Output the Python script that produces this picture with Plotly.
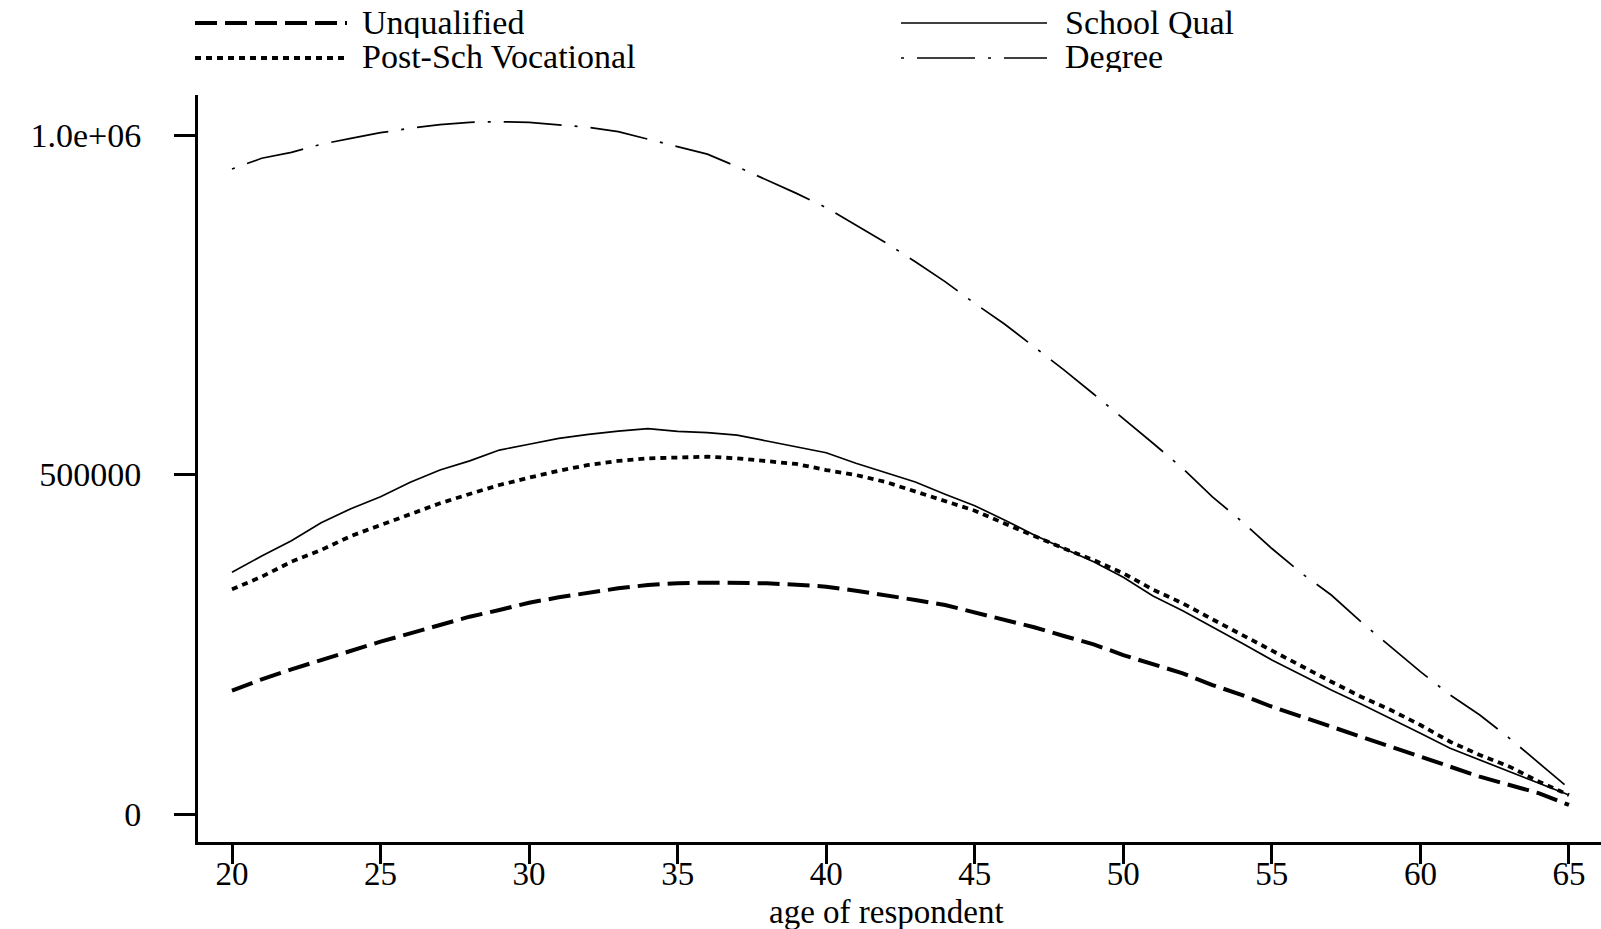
import plotly.graph_objects as go

ages = list(range(20, 66))

unqualified = [0.1816, 0.1984, 0.2131, 0.2268, 0.2405, 0.2538, 0.2661, 0.2783, 0.2906, 0.3004,
               0.3112, 0.3191, 0.3259, 0.3324, 0.3373, 0.3398, 0.3407, 0.3407, 0.3398, 0.3377,
               0.3348, 0.3289, 0.3225, 0.3152, 0.3078, 0.2970, 0.2857, 0.2750, 0.2621, 0.2499,
               0.2340, 0.2205, 0.2072, 0.1899, 0.1752, 0.1580, 0.1433, 0.1286, 0.1139, 0.0991,
               0.0844, 0.0697, 0.0550, 0.0427, 0.0305, 0.0133]
school_qual = [0.356, 0.380, 0.4025, 0.429, 0.4496, 0.4673, 0.4885, 0.5066, 0.520, 0.536,
               0.5445, 0.5533, 0.5592, 0.564, 0.5675, 0.5636, 0.5616, 0.558, 0.5493, 0.541,
               0.532, 0.5165, 0.503, 0.489, 0.471, 0.454, 0.433, 0.411, 0.391, 0.3716,
               0.3486, 0.321, 0.2994, 0.2758, 0.2514, 0.2268, 0.2047, 0.1826, 0.162, 0.141,
               0.1188, 0.0968, 0.0795, 0.0623, 0.0452, 0.028]
post_sch_voc = [0.331, 0.3495, 0.3716, 0.3888, 0.4094, 0.4256, 0.4404, 0.4576, 0.4713, 0.4845,
                0.4953, 0.5056, 0.514, 0.520, 0.5238, 0.5253, 0.5262, 0.5238, 0.520, 0.5155,
                0.5066, 0.4993, 0.489, 0.4747, 0.4614, 0.4467, 0.428, 0.4094, 0.391, 0.374,
                0.3545, 0.3305, 0.3103, 0.2867, 0.2636, 0.2415, 0.217, 0.1948, 0.1728, 0.1532,
                0.131, 0.1065, 0.0869, 0.0697, 0.0476, 0.028]
degree = [0.950, 0.9657, 0.9745, 0.9863, 0.9951, 1.0034, 1.0099, 1.0152, 1.0187, 1.0196,
          1.0187, 1.0152, 1.0113, 1.0049, 0.9941, 0.9828, 0.9718, 0.9533, 0.9337, 0.914,
          0.893, 0.8675, 0.8414, 0.8134, 0.784, 0.752, 0.7216, 0.688, 0.654, 0.6186,
          0.5828, 0.546, 0.509, 0.467, 0.4305, 0.391, 0.3545, 0.3225, 0.283, 0.2464,
          0.2096, 0.1753, 0.1458, 0.1115, 0.0747, 0.0378]

series_names = ["Unqualified", "School Qual", "Post-Sch Vocational", "Degree"]
x_ticks = [20, 25, 30, 35, 40, 45, 50, 55, 60, 65]
y_ticks = [0, 500000, 1000000]
y_ticktext = ["0", "500000", "1.0e+06"]
x_title = "age of respondent"

FONT = "Liberation Serif, Times New Roman, serif"
styles = {
    "Unqualified": dict(width=4, dash="22px,8px"),
    "School Qual": dict(width=1.7, dash="solid"),
    "Post-Sch Vocational": dict(width=3.8, dash="6px,5px"),
    "Degree": dict(width=1.7, dash="3px,13px,58px,13px"),
}
values = {
    "Unqualified": unqualified,
    "School Qual": school_qual,
    "Post-Sch Vocational": post_sch_voc,
    "Degree": degree,
}

fig = go.Figure()
for name in series_names:
    fig.add_trace(go.Scatter(
        x=ages, y=[v * 1e6 for v in values[name]], mode="lines", name=name,
        line=dict(color="black", width=styles[name]["width"], dash=styles[name]["dash"]),
        showlegend=False,
    ))

W, H = 1601, 929
ml, mr, mt, mb = 198, 0, 95, 87
pw, ph = W - ml - mr, H - mt - mb

def px2paper(px, py):
    return (px - ml) / pw, (H - mb - py) / ph

# manual legend (two columns, two rows): line x0, line x1, line y, text x, text y
legend_pos = {
    "Unqualified": (195, 347, 23, 360, 23),
    "Post-Sch Vocational": (195, 347, 58, 360, 56),
    "School Qual": (901, 1047, 23, 1063, 23),
    "Degree": (901, 1047, 58, 1063, 56),
}
shapes = []
annotations = []
for name in series_names:
    x0, x1, yy, xt, yt = legend_pos[name]
    px0, py0 = px2paper(x0, yy)
    px1, _ = px2paper(x1, yy)
    shapes.append(dict(type="line", xref="paper", yref="paper", x0=px0, x1=px1, y0=py0, y1=py0,
                       line=dict(color="black", width=styles[name]["width"], dash=styles[name]["dash"])))
    tx, ty = px2paper(xt, yt)
    annotations.append(dict(text=name, xref="paper", yref="paper", x=tx, y=ty, xanchor="left",
                            yanchor="middle", showarrow=False, height=31, valign="middle",
                            font=dict(family=FONT, size=34, color="black")))

tx, ty = px2paper(886, 912)
annotations.append(dict(text=x_title, xref="paper", yref="paper", x=tx, y=ty, xanchor="center",
                        yanchor="middle", showarrow=False, font=dict(family=FONT, size=33, color="black")))

px_per_year = 29.71
x_lo = 20 - (232 - ml) / px_per_year
x_hi = 20 + (W - mr - 232) / px_per_year
y_scale = 1e6 / 679.0
y_lo = -(H - mb - 814) * y_scale
y_hi = (814 - mt) * y_scale

fig.update_layout(
    width=W, height=H,
    margin=dict(l=ml, r=mr, t=mt, b=mb, pad=0),
    paper_bgcolor="white", plot_bgcolor="white",
    font=dict(family=FONT, size=34, color="black"),
    shapes=shapes, annotations=annotations,
    xaxis=dict(range=[x_lo, x_hi], tickvals=x_ticks, ticks="outside", ticklen=19, tickwidth=3,
               tickcolor="black", showline=True, linewidth=3, linecolor="black", mirror=False,
               showgrid=False, zeroline=False, tickfont=dict(family=FONT, size=33),
               ticklabelstandoff=-19),
    yaxis=dict(range=[y_lo, y_hi], tickvals=y_ticks, ticktext=y_ticktext, ticks="outside",
               ticklen=21, tickwidth=3, tickcolor="black", showline=True, linewidth=3,
               linecolor="black", mirror=False, showgrid=False, zeroline=False,
               tickfont=dict(family=FONT, size=34), ticklabelstandoff=26),
)

fig.write_html("out.html")
